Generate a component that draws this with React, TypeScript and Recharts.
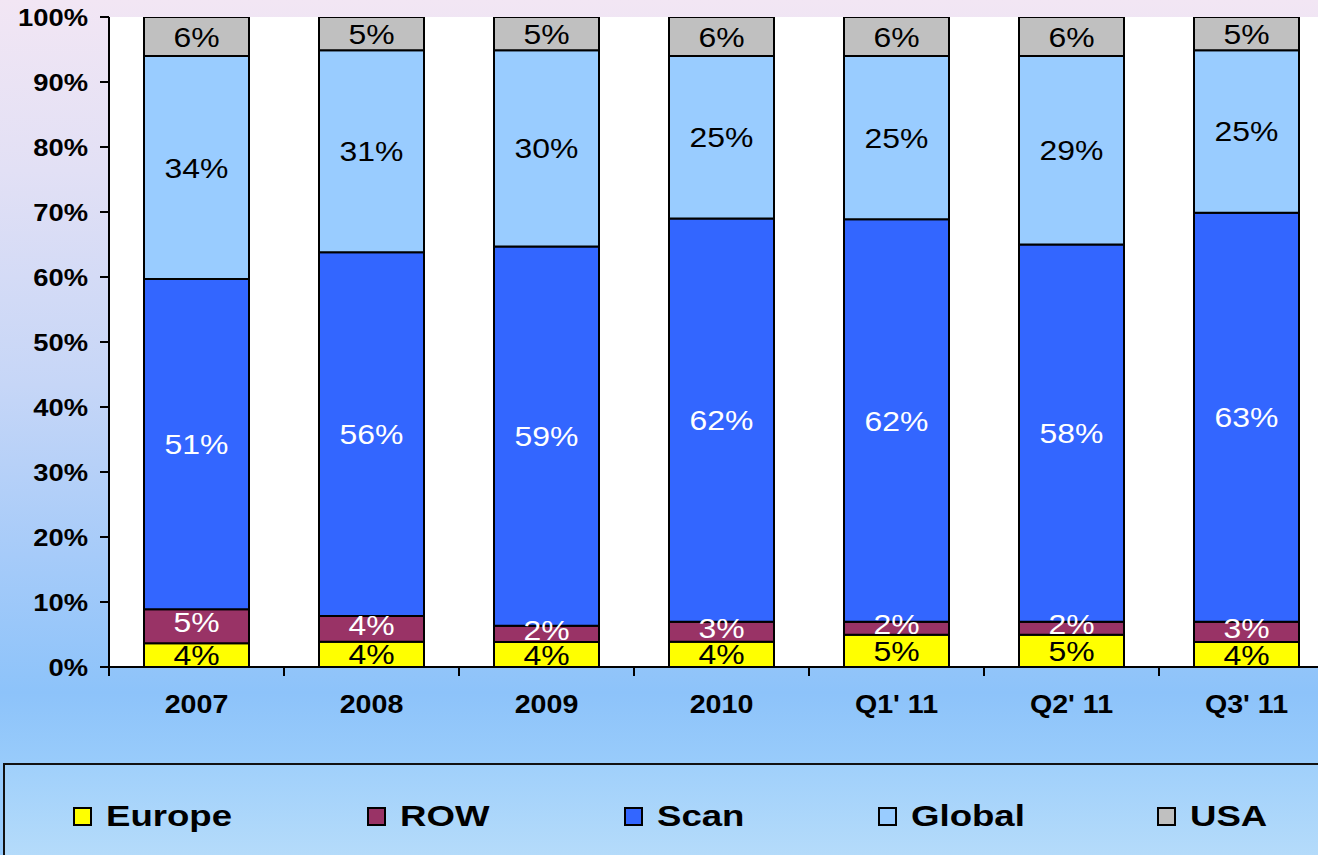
import React from "react";
import { Bar, BarChart, CartesianGrid, LabelList, XAxis, YAxis } from "recharts";

// categories and stacked shares (%)
const periods = ["2007", "2008", "2009", "2010", "Q1' 11", "Q2' 11", "Q3' 11"];
const europe = [3.65, 3.9, 3.85, 3.9, 4.95, 4.95, 3.85];
const row = [5.25, 3.95, 2.5, 3.05, 2.0, 2.0, 3.1];
const scan = [50.8, 55.95, 58.35, 62.05, 61.95, 58.05, 62.95];
const global = [34.3, 31.1, 30.2, 25.0, 25.1, 29.0, 25.0];
const usa = [6.0, 5.1, 5.1, 6.0, 6.0, 6.0, 5.1];

// printed labels
const europeLabels = ["4%", "4%", "4%", "4%", "5%", "5%", "4%"];
const rowLabels = ["5%", "4%", "2%", "3%", "2%", "2%", "3%"];
const scanLabels = ["51%", "56%", "59%", "62%", "62%", "58%", "63%"];
const globalLabels = ["34%", "31%", "30%", "25%", "25%", "29%", "25%"];
const usaLabels = ["6%", "5%", "5%", "6%", "6%", "6%", "5%"];

const yTicks = [0, 10, 20, 30, 40, 50, 60, 70, 80, 90, 100];

const series = [
  { key: "europe", name: "Europe", color: "#FFFF00", text: "#000", shift: 0 },
  { key: "row", name: "ROW", color: "#993366", text: "#fff", shift: -4 },
  { key: "scan", name: "Scan", color: "#3366FF", text: "#fff", shift: 0 },
  { key: "global", name: "Global", color: "#99CCFF", text: "#000", shift: 0 },
  { key: "usa", name: "USA", color: "#C0C0C0", text: "#000", shift: 0 },
];

const data = periods.map((p, i) => ({
  period: p,
  europe: europe[i],
  row: row[i],
  scan: scan[i],
  global: global[i],
  usa: usa[i],
  europeLabel: europeLabels[i],
  rowLabel: rowLabels[i],
  scanLabel: scanLabels[i],
  globalLabel: globalLabels[i],
  usaLabel: usaLabels[i],
}));

const FONT = "'Liberation Sans', Arial, sans-serif";
const legendLeft = [73, 367, 624, 878, 1157];

function XTick(props: any) {
  const { x, y, payload } = props;
  const half = payload && payload.offset ? payload.offset : 87.5;
  return (
    <g>
      <line x1={x - half} y1={y} x2={x - half} y2={y + 9} stroke="#000" strokeWidth={2} />
      <line x1={x + half} y1={y} x2={x + half} y2={y + 9} stroke="#000" strokeWidth={2} />
      <text
        transform={`translate(${x},${y + 46}) scale(1.1,1)`}
        textAnchor="middle"
        fontFamily={FONT}
        fontWeight="bold"
        fontSize={26}
        fill="#000"
      >
        {payload.value}
      </text>
    </g>
  );
}

function YTick(props: any) {
  const { x, y, payload } = props;
  return (
    <text
      transform={`translate(${x},${y}) scale(1.14,1)`}
      dy="0.36em"
      textAnchor="end"
      fontFamily={FONT}
      fontWeight="bold"
      fontSize={24}
      fill="#000"
    >
      {`${payload.value}%`}
    </text>
  );
}

function makeLabel(color: string, shift: number) {
  return (props: any) => {
    const { x, y, width, height, value } = props;
    const cx = Number(x) + Number(width) / 2;
    const cy = Number(y) + Number(height) / 2 + shift;
    return (
      <text
        transform={`translate(${cx},${cy}) scale(1.14,1)`}
        dy="0.36em"
        textAnchor="middle"
        fontFamily={FONT}
        fontSize={28}
        fill={color}
      >
        {value}
      </text>
    );
  };
}

export default function App() {
  return (
    <div
      style={{
        position: "fixed",
        left: 0,
        top: 0,
        width: 1318,
        height: 855,
        overflow: "hidden",
        background:
          "linear-gradient(to bottom, #F2E6F4 0%, #E2E0F5 20%, #C6D6F7 45%, #A6CBF9 65%, #8DC3FA 81%, #98CBFB 89%)",
        fontFamily: FONT,
      }}
    >
      <BarChart
        width={1340}
        height={855}
        data={data}
        margin={{ top: 17, right: 6, left: 0, bottom: 128 }}
        barCategoryGap="20%"
      >
        <CartesianGrid horizontal={false} vertical={false} fill="#fff" stroke="none" />
        <XAxis
          dataKey="period"
          height={60}
          tickLine={false}
          tickSize={0}
          tickMargin={0}
          axisLine={{ stroke: "#000", strokeWidth: 2 }}
          tick={<XTick />}
          interval={0}
        />
        <YAxis
          width={109}
          domain={[0, 100]}
          ticks={yTicks}
          interval={0}
          tickSize={9}
          tickMargin={12}
          tickLine={{ stroke: "#000", strokeWidth: 2 }}
          axisLine={{ stroke: "#000", strokeWidth: 2 }}
          tick={<YTick />}
          allowDataOverflow
        />
        {series.map((s) => (
          <Bar
            key={s.key}
            dataKey={s.key}
            name={s.name}
            stackId="a"
            fill={s.color}
            stroke="#000"
            strokeWidth={2}
            isAnimationActive={false}
          >
            <LabelList dataKey={`${s.key}Label`} content={makeLabel(s.text, s.shift)} />
          </Bar>
        ))}
      </BarChart>
      <div
        style={{
          position: "absolute",
          left: 3,
          top: 763,
          width: 1400,
          height: 110,
          border: "2px solid #111",
          boxSizing: "border-box",
          background: "linear-gradient(to bottom, #A0D0FB 0%, #B8DDFA 100%)",
        }}
      >
        {series.map((s, i) => (
          <div
            key={s.key}
            style={{
              position: "absolute",
              left: legendLeft[i] - 5,
              top: 34,
              display: "flex",
              alignItems: "center",
              height: 34,
            }}
          >
            <span
              style={{
                display: "inline-block",
                width: 15,
                height: 15,
                background: s.color,
                border: "2px solid #000",
                marginRight: 14,
              }}
            />
            <span
              style={{
                display: "inline-block",
                fontWeight: "bold",
                fontSize: 30,
                color: "#000",
                transform: "scaleX(1.22)",
                transformOrigin: "left center",
              }}
            >
              {s.name}
            </span>
          </div>
        ))}
      </div>
    </div>
  );
}
